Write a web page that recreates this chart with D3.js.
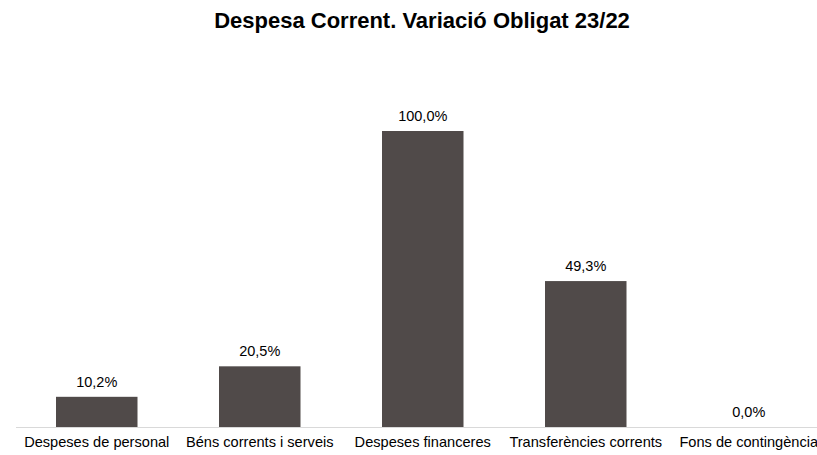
<!DOCTYPE html>
<html>
<head>
<meta charset="utf-8">
<script src="https://cdn.jsdelivr.net/npm/d3@7"></script>
<style>
  body { margin: 0; background: #fff; }
  svg { display: block; font-family: 'Liberation Sans', Arial, sans-serif; }
</style>
</head>
<body>
<svg id="chart"></svg>
<script>
const categories = ['Despeses de personal', 'Béns corrents i serveis', 'Despeses financeres', 'Transferències corrents', 'Fons de contingència']
const values = [10.2, 20.5, 100.0, 49.3, 0.0]
const valueLabels = ['10,2%', '20,5%', '100,0%', '49,3%', '0,0%']

const w = 817, h = 455
const baseY = 427, topY = 131

const svg = d3.select('#chart')
  .attr('width', w)
  .attr('height', h)

const x = d3.scaleBand()
  .domain(categories)
  .range([15.25, 830.25])
  .paddingInner(0.5)
  .paddingOuter(0.25)

const y = d3.scaleLinear()
  .domain([0, 100])
  .range([baseY, topY])

svg.append('text')
  .attr('x', 422)
  .attr('y', 28)
  .attr('text-anchor', 'middle')
  .attr('font-size', 22)
  .attr('font-weight', 'bold')
  .attr('fill', '#000')
  .text('Despesa Corrent. Variació Obligat 23/22')

svg.append('g')
  .selectAll('rect')
  .data(values).enter().append('rect')
  .attr('x', (d, i) => x(categories[i]))
  .attr('width', x.bandwidth())
  .attr('y', d => y(d))
  .attr('height', d => y(0) - y(d))
  .attr('fill', '#504a49')

svg.append('line')
  .attr('x1', 16).attr('x2', w)
  .attr('y1', baseY + 0.5).attr('y2', baseY + 0.5)
  .attr('stroke', '#d9d9d9')

svg.append('g')
  .selectAll('text')
  .data(valueLabels).enter().append('text')
  .attr('x', (d, i) => x(categories[i]) + x.bandwidth() / 2)
  .attr('y', (d, i) => y(values[i]) - 10)
  .attr('text-anchor', 'middle')
  .attr('font-size', 14.5)
  .attr('fill', '#000')
  .text(d => d)

const xAx = d3.axisBottom(x).tickSize(0).tickPadding(0)

svg.append('g')
  .attr('transform', `translate(0, ${baseY})`)
  .call(xAx)
  .call(g => g.select('.domain').remove())
  .call(g => g.selectAll('text')
    .attr('dy', null)
    .attr('y', 20)
    .attr('font-size', 14.6)
    .attr('font-family', "'Liberation Sans', Arial, sans-serif")
    .attr('fill', '#000'))
</script>
</body>
</html>
